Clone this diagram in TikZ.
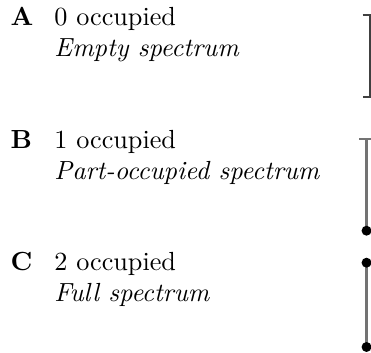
\documentclass[tikz,border=0pt]{standalone}
\usetikzlibrary{calc}

\tikzset{
  rowlabel/.style={anchor=base west, inner sep=0pt, font=\bfseries},
  rowtext/.style={anchor=base west, inner sep=0pt},
  rowdesc/.style={rowtext, font=\itshape},
  emptybar/.style={line width=0.8pt, black!75},
  fullbar/.style={line width=0.8pt, black!55},
  occdot/.style={fill=black, draw=none}
}

\begin{document}
\begin{tikzpicture}
  \useasboundingbox (0,0) rectangle (4.977,4.735);

  % A: nothing occupied
  \node[rowlabel] (labA) at (0.134,4.398) {A};
  \node[rowtext] (occA) at (0.724,4.398) {0 occupied};
  \node[rowdesc] (specA) at (0.724,3.982) {Empty spectrum};
  \coordinate (Atop) at (4.96,4.533);
  \coordinate (Abot) at (4.96,3.433);
  \draw[emptybar] ($(Atop)+(-0.096,0)$) -- (Atop) -- (Abot) -- ($(Abot)+(-0.096,0)$);

  % B: one occupied
  \node[rowlabel] (labB) at (0.134,2.749) {B};
  \node[rowtext] (occB) at (0.724,2.749) {1 occupied};
  \node[rowdesc] (specB) at (0.724,2.333) {Part-occupied spectrum};
  \coordinate (Btop) at (4.917,2.866);
  \coordinate (Bbot) at (4.917,1.640);
  \draw[fullbar] ($(Btop)+(-0.1,0)$) -- ($(Btop)+(0.1,0)$);
  \draw[fullbar] (Btop) -- (Bbot);
  \fill[occdot] (Bbot) circle (1.9pt);

  % C: both occupied
  \node[rowlabel] (labC) at (0.134,1.100) {C};
  \node[rowtext] (occC) at (0.724,1.100) {2 occupied};
  \node[rowdesc] (specC) at (0.724,0.684) {Full spectrum};
  \coordinate (Ctop) at (4.917,1.211);
  \coordinate (Cbot) at (4.917,0.080);
  \draw[fullbar] (Ctop) -- (Cbot);
  \fill[occdot] (Ctop) circle (1.9pt);
  \fill[occdot] (Cbot) circle (1.9pt);
\end{tikzpicture}
\end{document}
